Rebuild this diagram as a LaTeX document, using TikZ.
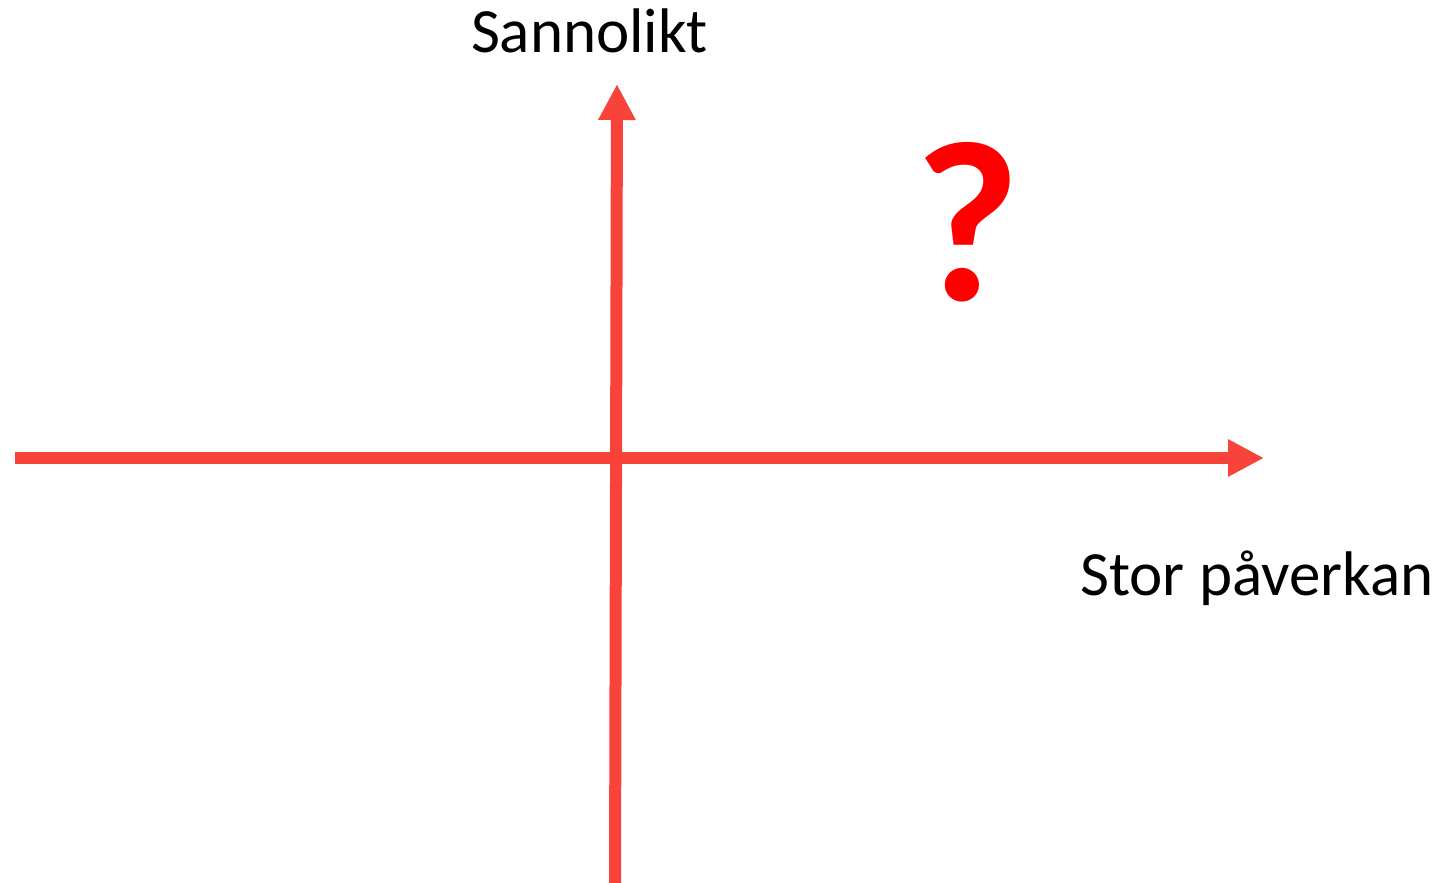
\documentclass[tikz,border=0pt]{standalone}
\usepackage{fontspec}
\setmainfont{Carlito}
\usetikzlibrary{arrows.meta}
\definecolor{axisred}{RGB}{248,67,59}
\definecolor{qred}{RGB}{255,0,0}
\begin{document}
\begin{tikzpicture}[x=1pt,y=-1pt,
  axisline/.style={draw=axisred,line width=12pt,-{Triangle[length=36pt,width=35pt]}},
  axislabel/.style={inner sep=0pt,anchor=base,font=\fontsize{63}{70}\selectfont},
  qmark/.style={inner sep=0pt,anchor=base,text=qred,font=\fontsize{229}{240}\selectfont\bfseries}]
\useasboundingbox (0,0) rectangle (1449,883);
\coordinate (hstart) at (15,458);
\coordinate (hend) at (1264,458);
\coordinate (vstart) at (615,883);
\coordinate (vend) at (617,84);
\draw[axisline] (hstart) -- (hend);
\draw[axisline] (vstart) -- (vend);
\node[axislabel] (ylab) at (589.5,53) {Sannolikt};
\node[axislabel,anchor=base west] (xlab) at (1080,595) {Stor påverkan};
\node[qmark] (q) at (968,300) {?};
\end{tikzpicture}
\end{document}
